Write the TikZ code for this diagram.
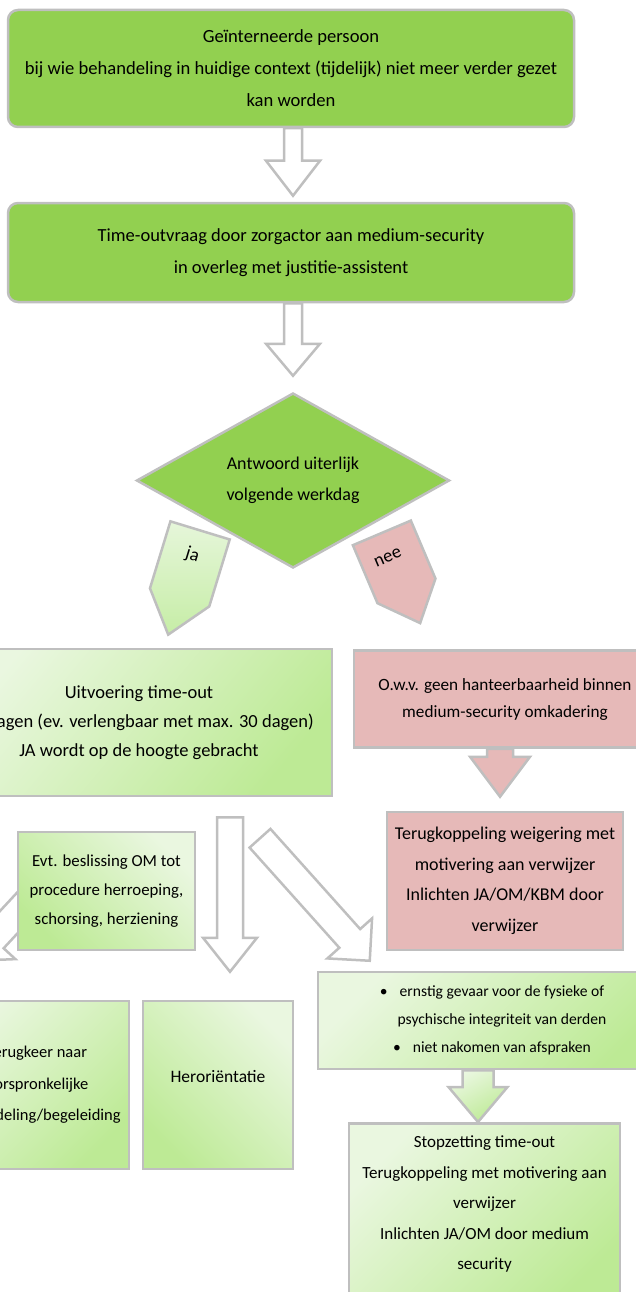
\documentclass[tikz,border=0pt]{standalone}
\usepackage{fontspec}
\setmainfont{Carlito}
\usetikzlibrary{calc,shapes.geometric}
\pgfdeclarelayer{bg}
\pgfsetlayers{bg,main}
\definecolor{sgreen}{HTML}{92D050}
\definecolor{bgray}{HTML}{BFBFBF}
\definecolor{rpink}{HTML}{E6B9B8}
\definecolor{lgA}{HTML}{EAF7E0}
\definecolor{lgB}{HTML}{BDEA95}
\definecolor{jaA}{HTML}{E6F6DA}
\definecolor{jaB}{HTML}{C6EDA6}
% #1 style, #2 tail, #3 tip, #4 shaft half width, #5 head half width, #6 head length
\newcommand{\blockarrow}[6][]{%
  \coordinate (bac) at ($(#3)!#6!(#2)$);
  \draw[#1] ($(#2)!#4!90:(#3)$) -- ($(bac)!#4!90:(#3)$) -- ($(bac)!#5!90:(#3)$) -- (#3)
    -- ($(bac)!#5!-90:(#3)$) -- ($(bac)!#4!-90:(#3)$) -- ($(#2)!#4!-90:(#3)$) -- cycle;
}
\newcommand{\fs}[2]{\fontsize{#1}{#2}\selectfont}
\begin{document}
\begin{tikzpicture}[x=1pt,y=-1pt,
  txt/.style={font=\fs{18.5}{30}, align=center, text=black, inner sep=0pt},
  base/.style={txt, draw=bgray, line width=2.5pt},
  sbox/.style={base, fill=sgreen, rounded corners=10pt},
  lbox/.style={base, top color=lgA, bottom color=lgB, shading angle=#1},
  lbox/.default=45,
  rbox/.style={base, fill=rpink},
  harrow/.style={draw=bgray, line width=2.5pt, fill=white, line join=miter},
  rarrow/.style={draw=bgray, line width=2.5pt, fill=rpink, line join=miter},
  garrow/.style={draw=bgray, line width=2.5pt, top color=lgA, bottom color=lgB, shading angle=30, line join=miter},
  pent/.style={draw=bgray, line width=2.5pt, line join=miter}
]
\useasboundingbox (0,0) rectangle (636,1292);
\clip (0,0) rectangle (636,1292);

% top green boxes
\node[sbox, minimum width=566pt, minimum height=117pt, font=\fs{18.6}{32}] (b1) at (291,68.5)
  {Geïnterneerde persoon\\bij wie behandeling in huidige context (tijdelijk) niet meer verder gezet\\kan worden};
\node[sbox, minimum width=566pt, minimum height=99pt, font=\fs{18.5}{32}] (b2) at (291,252.5)
  {Time-outvraag door zorgactor aan medium-security\\in overleg met justitie-assistent};

% decision
\node[diamond, draw=bgray, line width=2.5pt, fill=sgreen, minimum width=313pt, minimum height=175pt, inner sep=0pt] (d) at (293,480.5) {};
\node[txt, font=\fs{18}{31}] (dt) at (d.center) {Antwoord uiterlijk\\volgende werkdag};

% ja / nee pentagons
\begin{scope}[shift={(184,583)}, rotate=-17]
  \path[pent, top color=jaA, bottom color=jaB] (-31,-55) -- (31,-55) -- (31,15) -- (0,54) -- (-31,15) -- cycle;
  \node[txt, rotate=-17] (ja) at (0,-29) {ja};
\end{scope}
\begin{scope}[shift={(401,578)}, rotate=23]
  \path[pent, fill=rpink] (-31.5,-49) -- (31.5,-49) -- (31.5,14) -- (0,49) -- (-31.5,14) -- cycle;
  \node[txt, rotate=23] (nee) at (-4,-24) {nee};
\end{scope}

% second row
\node[lbox=50, minimum width=386pt, minimum height=147pt, font=\fs{18.5}{29}] (u) at (139,722.5)
  {Uitvoering time-out\\30 dagen (ev. verlengbaar met max. 30 dagen)\\JA wordt op de hoogte gebracht};
\node[rbox, minimum width=302pt, minimum height=97pt, font=\fs{17.2}{27}] (r1) at (505,699)
  {O.w.v. geen hanteerbaarheid binnen\\medium-security omkadering};
\node[rbox, minimum width=236pt, minimum height=138pt, font=\fs{18}{30.5}] (r2) at (505,881)
  {Terugkoppeling weigering met\\motivering aan verwijzer\\Inlichten JA/OM/KBM door\\verwijzer};
\node[lbox=-45, minimum width=177pt, minimum height=118pt, font=\fs{16.8}{29}] (e) at (106.5,891)
  {Evt. beslissing OM tot\\procedure herroeping,\\schorsing, herziening};

% third row
\node[lbox=45, minimum width=184pt, minimum height=168pt, font=\fs{16.5}{31.5}] (t) at (37,1085)
  {Terugkeer naar\\oorspronkelijke\\behandeling/begeleiding};
\node[lbox=-45, minimum width=150pt, minimum height=168pt] (h) at (218,1085) {};
\node[txt, font=\fs{17.5}{30}] (ht) at ($(h.center)+(0,-8)$) {Heroriëntatie};
\node[lbox=45, minimum width=348pt, minimum height=97pt, font=\fs{15.6}{28}] (bl) at (492,1020.5)
  {\textbullet\hspace{12pt}ernstig gevaar voor de fysieke of\\
   \phantom{\textbullet}\hspace{12pt}psychische integriteit van derden\\
   \textbullet\hspace{12pt}niet nakomen van afspraken};
\node[lbox=45, minimum width=271pt, minimum height=185pt, anchor=north] (s) at (484.5,1122) {};
\node[txt, font=\fs{17}{30.5}] (st) at ($(s.north)+(0,82)$)
  {Stopzetting time-out\\Terugkoppeling met motivering aan\\verwijzer\\Inlichten JA/OM door medium\\security};

% connectors (block arrows) behind the boxes
\coordinate (a1s) at ($(b1.south)+(2,0)$);
\coordinate (a1e) at ($(b2.north)+(2,-6)$);
\coordinate (a2s) at ($(b2.south)+(2,0)$);
\coordinate (a2e) at ($(d.north)+(0,-16)$);
\coordinate (ras) at ($(r1.south)+(-5,0)$);
\coordinate (rae) at ($(r2.north)+(-5,-14)$);
\coordinate (vas) at ($(u.south)+(91,20)$);
\coordinate (vae) at ($(h.north)+(12,-28)$);
\coordinate (das) at ($(u.south)+(121,41)$);
\coordinate (dae) at ($(bl.north west)+(53,-10)$);
\coordinate (las) at ($(u.south)+(-59,48)$);
\coordinate (lae) at ($(t.north)+(-64,-39)$);
\coordinate (gas) at ($(bl.south)+(-14,0)$);
\coordinate (gae) at ($(s.north)+(-6.5,0)$);
\begin{pgfonlayer}{bg}
  \clip (0,0) rectangle (636,1292);
  \blockarrow[harrow]{a1s}{a1e}{9pt}{27pt}{35pt}
  \blockarrow[harrow]{a2s}{a2e}{9pt}{27pt}{32pt}
  \blockarrow[rarrow]{ras}{rae}{13pt}{30pt}{40pt}
  \blockarrow[harrow]{vas}{vae}{13pt}{27pt}{34pt}
  \blockarrow[harrow]{das}{dae}{14pt}{30pt}{30pt}
  \blockarrow[harrow]{las}{lae}{14pt}{30pt}{30pt}
  \blockarrow[garrow]{gas}{gae}{15.5pt}{29.5pt}{35pt}
\end{pgfonlayer}
\end{tikzpicture}
\end{document}
